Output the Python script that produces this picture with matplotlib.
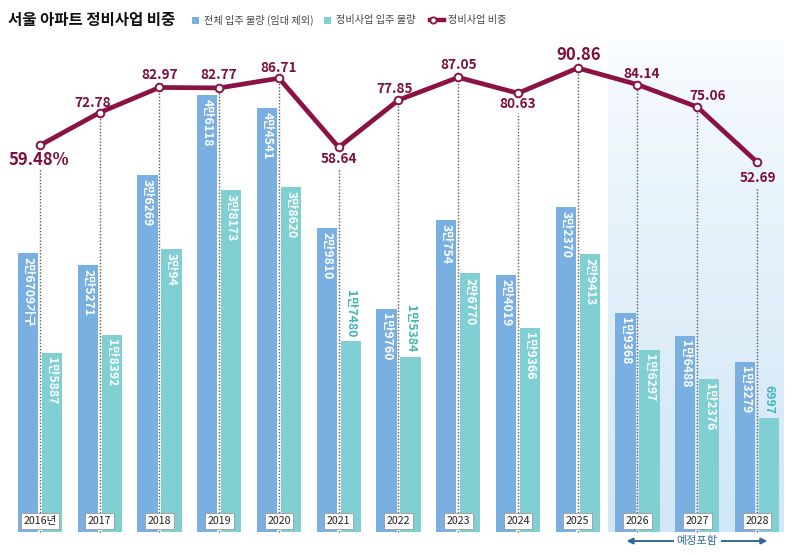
import matplotlib
matplotlib.use('Agg')
import matplotlib.pyplot as plt
from matplotlib.patches import Rectangle, FancyArrowPatch
from matplotlib.lines import Line2D
import numpy as np

plt.rcParams['font.family'] = ['Noto Sans CJK KR', 'DejaVu Sans']

# ---------------- data ----------------
years = ['2016년', '2017', '2018', '2019', '2020', '2021', '2022',
         '2023', '2024', '2025', '2026', '2027', '2028']
total_supply = [26709, 25271, 36269, 46118, 44541, 29810, 19760,
                30754, 24019, 32370, 19368, 16488, 13279]
redev_supply = [15887, 18392, 30094, 38173, 38620, 17480, 15384,
                26770, 19366, 29413, 16297, 12376, 6997]
redev_share = [59.48, 72.78, 82.97, 82.77, 86.71, 58.64, 77.85,
               87.05, 80.63, 90.86, 84.14, 75.06, 52.69]
forecast_from = 10  # index of 2026: "예정포함"

# ---------------- style / layout ----------------
W, H = 792, 555
BLUE = '#79b0e1'
TEAL = '#80cfd3'
MAROON = '#8a1244'
MAROON_TXT = '#7d0e3d'
TEAL_TXT = '#3fb6ba'
ARROW = '#2f6b98'

X0, DX = 40.0, 59.75                 # pixel of group 0, group spacing
BAR_OFF, BAR_W = 0.2, 0.34           # in group units
BAR_BOTTOM_PX = 532

# vertical scales: (zero pixel, pixels per unit)
SC_B = (470.0, 0.008131)
SC_G = (469.2, 0.007313)
SC_L = (291.8, 2.463)

def lims(sc):
    z, p = sc
    return ((z - H) / p, z / p)

def u(px, sc):
    z, p = sc
    return (z - px) / p

# label offsets for share line (pixels: dx, dy with +dy downward), big flag
lab_off = [(-1, 15), (-7, -10), (0, -12), (-1, -13), (0, -10), (0, 12), (-4, -11),
           (0, -12), (0, 11), (1, -13), (4, -11), (10, -11), (1, 16)]
lab_big = [True, False, False, False, False, False, False,
           False, False, True, False, False, False]
green_outside = [False, False, False, False, False, True, True,
                 False, False, False, False, False, True]

def kfmt(v):
    return f"{v // 10000}만{v % 10000}" if v >= 10000 else str(v)

fig = plt.figure(figsize=(W / 100, H / 100), dpi=100)
fig.patch.set_facecolor('white')
ax_b = fig.add_axes([0, 0, 1, 1])
ax_g = fig.add_axes([0, 0, 1, 1], sharex=ax_b)
ax_l = fig.add_axes([0, 0, 1, 1], sharex=ax_b)
for a in (ax_b, ax_g, ax_l):
    a.axis('off')
    a.patch.set_alpha(0)
ax_b.set_xlim(-X0 / DX, (W - X0) / DX)
ax_b.set_ylim(*lims(SC_B))
ax_g.set_ylim(*lims(SC_G))
ax_l.set_ylim(*lims(SC_L))

n = len(years)
x = np.arange(n)

# forecast shading (gradient)
grad_top = u(40, SC_B)
grad_bot = u(BAR_BOTTOM_PX, SC_B)
t = np.linspace(0, 1, 200)[:, None]
c_top = np.array([0.99, 0.995, 1.0])
c_bot = np.array([0.82, 0.905, 0.965])
img = (c_top * (1 - t[..., None] ** 0.7) + c_bot * (t[..., None] ** 0.7))
img = np.repeat(img, 2, axis=1)
ax_b.imshow(img, extent=[forecast_from - 0.5, n - 1 + 0.44, grad_bot, grad_top],
            aspect='auto', origin='upper', zorder=0, interpolation='bilinear')

# bars
bb = u(BAR_BOTTOM_PX, SC_B)
bg = u(BAR_BOTTOM_PX, SC_G)
tb = np.array(total_supply)
rg = np.array(redev_supply)
ax_b.bar(x - BAR_OFF, tb - bb, bottom=bb, width=BAR_W, color=BLUE, zorder=2)
ax_g.bar(x + BAR_OFF, rg - bg, bottom=bg, width=BAR_W, color=TEAL, zorder=2)

for i in range(n):
    lab = kfmt(total_supply[i]) + ('가구' if i == 0 else '')
    ax_b.annotate(lab, xy=(i - BAR_OFF, total_supply[i]), xytext=(0, -3),
                  textcoords='offset points', rotation=270, ha='center', va='top',
                  color='white', fontsize=8.8, fontweight='bold', zorder=3)
    if green_outside[i]:
        ax_g.annotate(kfmt(redev_supply[i]), xy=(i + BAR_OFF, redev_supply[i]),
                      xytext=(0, 3), textcoords='offset points', rotation=270,
                      ha='center', va='bottom', color=TEAL_TXT, fontsize=8.8,
                      fontweight='bold', zorder=3)
    else:
        ax_g.annotate(kfmt(redev_supply[i]), xy=(i + BAR_OFF, redev_supply[i]),
                      xytext=(0, -3), textcoords='offset points', rotation=270,
                      ha='center', va='top', color='white', fontsize=8.8,
                      fontweight='bold', zorder=3)

# dotted guide lines
bl = u(BAR_BOTTOM_PX, SC_L)
for i in range(n):
    dx, dy = lab_off[i]
    top = redev_share[i] - ((dy + 9) / SC_L[1] if dy > 0 else 0)
    ax_l.plot([i, i], [bl, top], color='#5a5a5a', lw=1.0,
              linestyle=(0, (1, 1.3)), zorder=1)

# share line
ax_l.plot(x, redev_share, color=MAROON, lw=3.4, marker='o', ms=5.5,
          mfc='white', mec=MAROON, mew=1.4, zorder=5)
for i in range(n):
    dx, dy = lab_off[i]
    txt = f"{redev_share[i]:.2f}" + ('%' if i == 0 else '')
    ax_l.annotate(txt, xy=(i, redev_share[i]), xytext=(dx * 0.72, -dy * 0.72),
                  textcoords='offset points', ha='center', va='center',
                  fontsize=12 if lab_big[i] else 9.8, fontweight='bold',
                  color=MAROON_TXT, zorder=6)

# year boxes
for i in range(n):
    ax_l.text(i, u(521, SC_L), years[i], ha='center', va='center', fontsize=7.6,
              color='#222222', zorder=8,
              bbox=dict(boxstyle='square,pad=0.25', fc='white', ec='#9a9a9a', lw=0.6))

# forecast arrow
ya = u(541, SC_L)
arr = FancyArrowPatch((forecast_from - 0.23, ya), (n - 1 + 0.22, ya),
                      arrowstyle='<|-|>', mutation_scale=9, color=ARROW, lw=1.4,
                      zorder=7)
ax_l.add_patch(arr)
ax_l.text((forecast_from + n - 1) / 2, ya, '예정포함', ha='center', va='center',
          fontsize=8, color=ARROW, zorder=8,
          bbox=dict(boxstyle='square,pad=0.25', fc='white', ec='none'))

# title and legend
fig.text(8 / W, 1 - 20 / H, '서울 아파트 정비사업 비중', ha='left', va='center',
         fontsize=11.2, fontweight='bold', color='#111111')
legend_items = [
    ('patch', BLUE, 192, '전체 입주 물량 (임대 제외)'),
    ('patch', TEAL, 324, '정비사업 입주 물량'),
    ('line', MAROON, 430, '정비사업 비중'),
]
ly = 20
for kind, col, px, label in legend_items:
    if kind == 'patch':
        fig.patches.append(Rectangle((px / W, 1 - (ly + 3.5) / H), 7 / W, 7 / H,
                                     transform=fig.transFigure, fc=col, ec='none'))
        tx = px + 12
    else:
        fig.add_artist(Line2D([px / W, (px + 14) / W], [1 - ly / H, 1 - ly / H],
                              transform=fig.transFigure, color=col, lw=3.2))
        fig.add_artist(Line2D([(px + 3) / W], [1 - ly / H], transform=fig.transFigure,
                              marker='o', ms=4.5, mfc='white', mec=col, mew=1.3,
                              linestyle='none'))
        tx = px + 18
    fig.text(tx / W, 1 - ly / H, label, ha='left', va='center', fontsize=7.3,
             color='#444444')

fig.savefig('out.png', dpi=100, facecolor='white')
